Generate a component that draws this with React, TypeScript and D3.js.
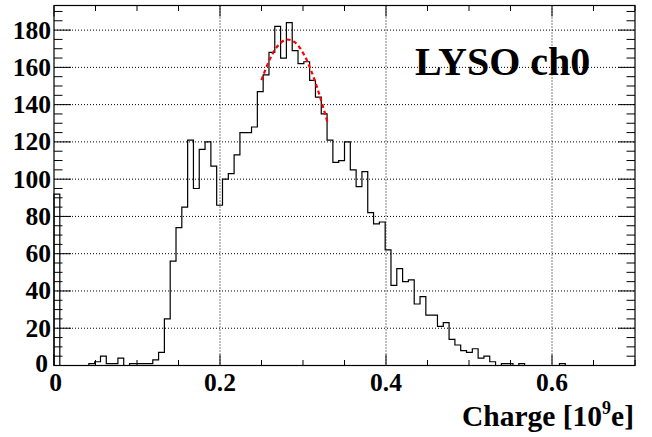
import React from "react";
import * as d3 from "d3";

// Histogram: 100 bins from 0 to 0.7 (x 10^9 e)
const BIN_COUNTS: number[] = [
  92, 0, 0, 0, 0, 0, 1, 2, 5, 1,
  1, 4, 0, 1, 1, 1, 1, 3, 7, 25,
  56, 74, 85, 121, 95, 116, 120, 107, 86, 100,
  103, 113, 125, 125, 128, 147, 156, 168, 182, 165,
  184, 169, 162, 163, 153, 144, 135, 121, 109, 110,
  120, 105, 96, 104, 82, 76, 77, 62, 43, 52,
  45, 46, 33, 37, 27, 27, 21, 23, 14, 11,
  8, 7, 9, 4, 5, 2, 0, 1, 1, 0,
  1, 0, 0, 0, 0, 0, 0, 1, 0, 0,
  0, 0, 0, 0, 0, 0, 0, 0, 0, 0,
];
const X_RANGE = [0, 0.7];
const Y_RANGE = [0, 193.2];

// Fit curve (red dashed), sampled
const FIT_X = [0.25, 0.26, 0.27, 0.28, 0.29, 0.3, 0.31, 0.32, 0.33];
const FIT_Y = [153.2, 164.3, 171.8, 174.9, 173.5, 167.8, 158.0, 145.0, 129.7];

const X_LABEL_TICKS = [0, 0.2, 0.4, 0.6];
const X_LABELS = ["0", "0.2", "0.4", "0.6"];
const X_MINOR_STEP = 0.05;
const Y_LABEL_TICKS = [0, 20, 40, 60, 80, 100, 120, 140, 160, 180];
const Y_MINOR_STEP = 5;

const TITLE = "LYSO ch0";

const W = 652;
const H = 437;
const M = { left: 54, right: 635, top: 5.5, bottom: 365.5 };
const FONT = "'Liberation Serif', 'Times New Roman', serif";

export default function App() {
  const x = d3.scaleLinear().domain(X_RANGE).range([M.left, M.right]);
  const y = d3.scaleLinear().domain(Y_RANGE).range([M.bottom, M.top]);
  const nb = BIN_COUNTS.length;
  const bw = (X_RANGE[1] - X_RANGE[0]) / nb;

  const pts: [number, number][] = [[x(X_RANGE[0]), y(0)]];
  BIN_COUNTS.forEach((v, i) => {
    pts.push([x(X_RANGE[0] + i * bw), y(v)]);
    pts.push([x(X_RANGE[0] + (i + 1) * bw), y(v)]);
  });
  pts.push([x(X_RANGE[1]), y(0)]);
  const histPath = d3.line()(pts) || "";

  const fitPath =
    d3
      .line<number>()
      .x((_, i) => x(FIT_X[i]))
      .y((d) => y(d))
      .curve(d3.curveCatmullRom)(FIT_Y) || "";

  const xMinor = d3.range(X_RANGE[0], X_RANGE[1] + 1e-9, X_MINOR_STEP);
  const yMinor = d3.range(0, Y_RANGE[1], Y_MINOR_STEP);

  return (
    <svg
      width={W}
      height={H}
      style={{ position: "absolute", left: 0, top: 0, background: "#fff" }}
    >
      <rect x={0} y={0} width={W} height={H} fill="#fff" />
      {/* grid */}
      <g stroke="#000" strokeWidth={1} strokeDasharray="1,2">
        {X_LABEL_TICKS.filter((t) => t > X_RANGE[0]).map((t) => (
          <line key={"gx" + t} x1={x(t)} x2={x(t)} y1={M.top} y2={M.bottom} />
        ))}
        {Y_LABEL_TICKS.filter((t) => t > 0).map((t) => (
          <line key={"gy" + t} x1={M.left} x2={M.right} y1={y(t)} y2={y(t)} />
        ))}
      </g>
      {/* ticks */}
      <g stroke="#000" strokeWidth={1}>
        {xMinor.map((t, i) => {
          const major = X_LABEL_TICKS.some((m) => Math.abs(m - t) < 1e-6);
          const len = major ? 11 : 5.5;
          return (
            <g key={"xt" + i}>
              <line x1={x(t)} x2={x(t)} y1={M.bottom} y2={M.bottom - len} />
              <line x1={x(t)} x2={x(t)} y1={M.top} y2={M.top + len} />
            </g>
          );
        })}
        {yMinor.map((t, i) => {
          const major = t % 20 === 0;
          const len = major ? 17 : 8.5;
          return (
            <g key={"yt" + i}>
              <line x1={M.left} x2={M.left + len} y1={y(t)} y2={y(t)} />
              <line x1={M.right} x2={M.right - len} y1={y(t)} y2={y(t)} />
            </g>
          );
        })}
      </g>
      {/* histogram */}
      <path d={histPath} fill="none" stroke="#000" strokeWidth={1.2} />
      {/* fit */}
      <path
        d={fitPath}
        fill="none"
        stroke="#ff0000"
        strokeWidth={2.2}
        strokeDasharray="4,3"
      />
      {/* frame */}
      <rect
        x={M.left}
        y={M.top}
        width={M.right - M.left}
        height={M.bottom - M.top}
        fill="none"
        stroke="#000"
        strokeWidth={1.2}
      />
      {/* labels */}
      <g fontFamily={FONT} fontWeight="bold" fontSize={25.5} fill="#000">
        {Y_LABEL_TICKS.map((t) => (
          <text
            key={"yl" + t}
            x={t === 0 ? M.left - 6 : M.left - 3}
            y={t === 0 ? y(t) + 6.5 : y(t) + 8.5}
            textAnchor="end"
          >
            {t}
          </text>
        ))}
        {X_LABEL_TICKS.map((t, i) => (
          <text
            key={"xl" + t}
            x={t === 0 ? x(t) + 1.5 : x(t)}
            y={391}
            textAnchor="middle"
          >
            {X_LABELS[i]}
          </text>
        ))}
      </g>
      <text
        x={634}
        y={426}
        textAnchor="end"
        fontFamily={FONT}
        fontWeight="bold"
        fontSize={29.5}
        fill="#000"
      >
        Charge [10
        <tspan fontSize={18} dy={-12}>
          9
        </tspan>
        <tspan dy={12}>e]</tspan>
      </text>
      <text
        x={415}
        y={75}
        fontFamily={FONT}
        fontWeight="bold"
        fontSize={40}
        fill="#000"
      >
        {TITLE}
      </text>
    </svg>
  );
}
